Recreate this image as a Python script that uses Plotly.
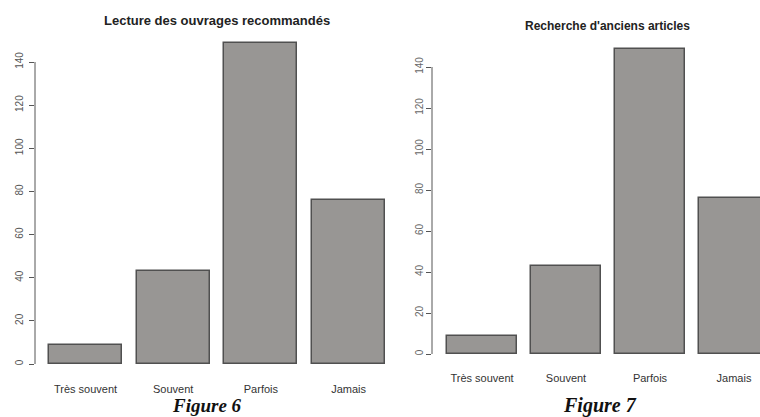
import plotly.graph_objects as go

categories = ["Très souvent", "Souvent", "Parfois", "Jamais"]
values_fig6 = [9, 43, 149, 76]
values_fig7 = [9, 43, 149, 76]
y_ticks = [0, 20, 40, 60, 80, 100, 120, 140]
title_fig6 = "Lecture des ouvrages recommandés"
title_fig7 = "Recherche d'anciens articles"
caption_fig6 = "Figure 6"
caption_fig7 = "Figure 7"

W, H = 760, 417
FILL = "#989694"
EDGE = "#505050"
pos = list(range(len(categories)))

fig = go.Figure()
fig.add_trace(go.Bar(x=pos, y=values_fig6, width=1/1.2, marker=dict(color=FILL, line=dict(color=EDGE, width=1.5)),
                     xaxis="x", yaxis="y", showlegend=False))
fig.add_trace(go.Bar(x=pos, y=values_fig7, width=1/1.2, marker=dict(color=FILL, line=dict(color=EDGE, width=1.5)),
                     xaxis="x2", yaxis="y2", showlegend=False))

def px_x(p):
    return p / W

def px_y(p):
    return (H - p) / H

tickfont = dict(family="Liberation Sans, Arial, sans-serif", size=10, color="#555555")
tickfont2 = dict(family="Liberation Sans, Arial, sans-serif", size=10, color="#666666")
catfont = dict(family="Liberation Sans, Arial, sans-serif", size=11, color="#333333")

# left chart geometry (pixels)
l_spacing = 87.7
l_c0 = 85.5
l_ax = 35
l_right = 398
l_y0, l_ytop = 364, 40
l_ppu = 302 / 140
# right chart geometry
r_spacing = 84.0
r_c0 = 482
r_ax = 432
r_y0, r_ytop = 354, 45
r_ppu = 287 / 140

fig.update_layout(
    width=W, height=H, margin=dict(l=0, r=0, t=0, b=0, autoexpand=False),
    plot_bgcolor="white", paper_bgcolor="white", bargap=0,
    xaxis=dict(domain=[px_x(l_ax), px_x(l_right)],
               range=[(l_ax - l_c0) / l_spacing, (l_right - l_c0) / l_spacing],
               tickvals=pos, ticktext=categories, ticks="", showline=False, showgrid=False,
               zeroline=False, tickfont=catfont, ticklabelstandoff=17, anchor="y", automargin=False),
    yaxis=dict(domain=[px_y(l_y0), px_y(l_ytop)], range=[0, (l_y0 - l_ytop) / l_ppu],
               tickvals=y_ticks, ticks="outside", ticklen=5, tickcolor="#555555", tickwidth=1,
               showline=False, showgrid=False, zeroline=False, tickangle=-90, tickfont=tickfont,
               ticklabelstandoff=2, anchor="x", automargin=False),
    xaxis2=dict(domain=[px_x(r_ax), 1.0],
                range=[(r_ax - r_c0) / r_spacing, (W - r_c0) / r_spacing],
                tickvals=pos, ticktext=categories, ticks="", showline=False, showgrid=False,
                zeroline=False, tickfont=catfont, ticklabelstandoff=16, anchor="y2", automargin=False),
    yaxis2=dict(domain=[px_y(r_y0), px_y(r_ytop)], range=[0, (r_y0 - r_ytop) / r_ppu],
                tickvals=y_ticks, ticks="outside", ticklen=5, tickcolor="#555555", tickwidth=1,
                showline=False, showgrid=False, zeroline=False, tickangle=-90, tickfont=tickfont2,
                ticklabelstandoff=-1, anchor="x2", automargin=False),
)

# axis lines spanning only the tick range (R style)
for xref, yref in [("x domain", "y"), ("x2 domain", "y2")]:
    fig.add_shape(type="line", xref=xref, yref=yref, x0=0, x1=0, y0=y_ticks[0], y1=y_ticks[-1],
                  line=dict(color="#555555", width=1))

def note(text, x, y, font):
    fig.add_annotation(text=text, x=px_x(x), y=px_y(y), xref="paper", yref="paper",
                       xanchor="center", yanchor="middle", showarrow=False, font=font)

note("<b>" + title_fig6 + "</b>", 217, 20, dict(family="Liberation Sans, Arial, sans-serif", size=13, color="#222222"))
note("<b>" + title_fig7 + "</b>", 607, 26, dict(family="Liberation Sans, Arial, sans-serif", size=12, color="#222222"))
note("<b><i>" + caption_fig6 + "</i></b>", 207, 405, dict(family="Liberation Serif, Times New Roman, serif", size=19, color="#111111"))
note("<b><i>" + caption_fig7 + "</i></b>", 600, 405, dict(family="Liberation Serif, Times New Roman, serif", size=20, color="#111111"))

fig.write_html("out.html", config={"displayModeBar": False},
               post_script="document.body.style.margin='0';document.body.style.overflow='hidden';")
